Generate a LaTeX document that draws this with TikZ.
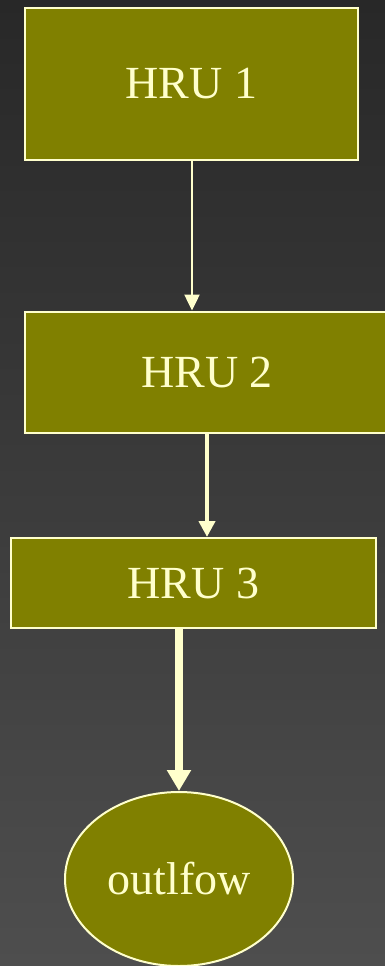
\documentclass[tikz,border=0pt]{standalone}
\usepackage{fontspec}
\setmainfont{Liberation Serif}
\usepackage{tikz}
\usetikzlibrary{arrows.meta,shapes.geometric}
\definecolor{hruolive}{RGB}{128,128,0}
\definecolor{palecream}{RGB}{255,255,204}
\definecolor{slatetop}{RGB}{40,40,40}
\definecolor{slatebottom}{RGB}{78,78,78}

\begin{document}
\begin{tikzpicture}[x=1pt, y=-1pt,
    hrubox/.style={draw=palecream, line width=2pt, fill=hruolive, text=palecream,
        inner sep=0pt, font=\fontsize{46}{50}\selectfont},
    flow/.style={draw=palecream, line cap=butt}]
% Background panel
\shade[top color=slatetop, bottom color=slatebottom] (0,0) rectangle (385,966);
\useasboundingbox (0,0) rectangle (385,966);
\clip (0,0) rectangle (385,966);

% Draw the response units
\node[hrubox, minimum width=333pt, minimum height=152pt] (hru1) at (191.5,84) {HRU 1};
\node[hrubox, minimum width=364pt, minimum height=121pt] (hru2) at (207,372) {HRU 2};
\node[hrubox, minimum width=365pt, minimum height=90pt] (hru3) at (193.5,583) {HRU 3};
\node[hrubox, ellipse, minimum width=228pt, minimum height=174pt] (outflow) at (179,879) {outlfow};

% Add connecting arrows
\draw[flow, line width=2.5pt, -{Triangle[width=15pt,length=16pt]}]
    (192,0 |- hru1.south) -- (192,0 |- hru2.north);
\draw[flow, line width=4pt, -{Triangle[width=16pt,length=16pt]}]
    (hru2.south) -- (hru2.south |- hru3.north);
\draw[flow, line width=8pt, -{Triangle[width=23pt,length=21pt]}]
    (outflow.north |- hru3.south) -- (outflow.north);
\end{tikzpicture}
\end{document}
